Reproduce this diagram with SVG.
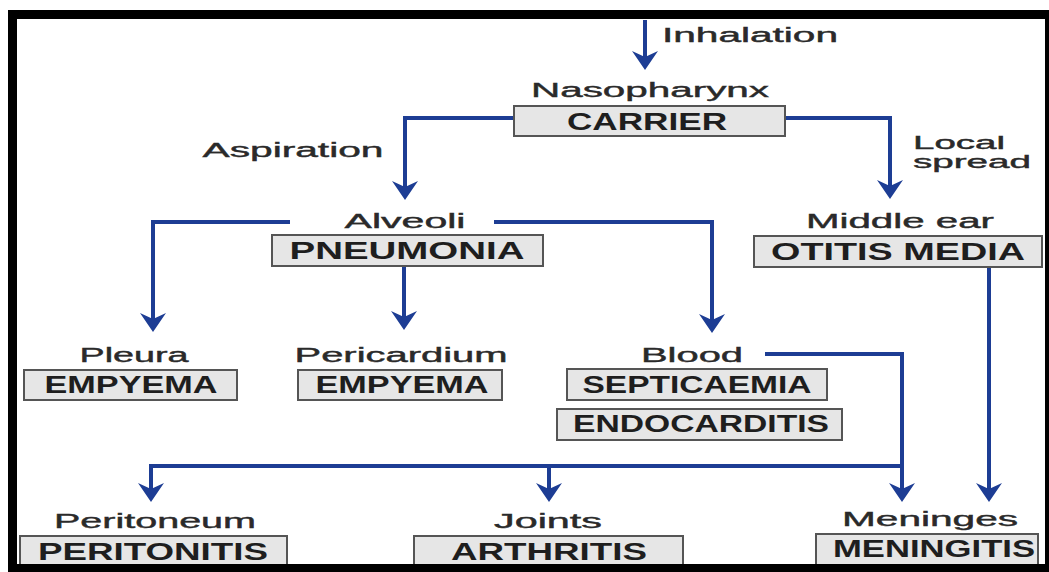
<svg xmlns="http://www.w3.org/2000/svg" width="1049" height="572" viewBox="0 0 1049 572">
  <style>
    .box rect { fill: #e6e6e6; stroke: #555; stroke-width: 2; }
    .box text { font-family: "Liberation Sans", Arial, sans-serif; font-size: 23px; font-weight: bold; fill: #1e1e1e; text-anchor: middle; }
    text.lbl, .box text.lbl { font-family: "Liberation Sans", Arial, sans-serif; font-size: 20px; font-weight: normal; fill: #2a2a2a; text-anchor: middle; stroke: #2a2a2a; stroke-width: 0.4; }
    .conn path { fill: none; stroke: #1d3d94; stroke-width: 4; }
  </style>
  <defs>
    <marker id="ah" viewBox="-2 -15 24 30" markerWidth="24" markerHeight="30" refX="8" refY="0" orient="auto" markerUnits="userSpaceOnUse">
      <path d="M0,-13 L19,0 L0,13 L6,0 Z" fill="#1d3d94"/>
    </marker>
  </defs>
  <rect x="0" y="0" width="1049" height="572" fill="#fff"/>

  <g class="conn" id="connectors">
    <path d="M645,20 V59" marker-end="url(#ah)"/>
    <path d="M514,118 H405 V189" marker-end="url(#ah)"/>
    <path d="M785,118 H890 V188" marker-end="url(#ah)"/>
    <path d="M290,222 H153 V321" marker-end="url(#ah)"/>
    <path d="M404,266 V319" marker-end="url(#ah)"/>
    <path d="M494,222 H712 V322" marker-end="url(#ah)"/>
    <path d="M765,354 H902 V491" marker-end="url(#ah)"/>
    <path d="M902,466 H151 V491" marker-end="url(#ah)"/>
    <path d="M549,466 V491" marker-end="url(#ah)"/>
    <path d="M989,267 V491" marker-end="url(#ah)"/>
  </g>

  <g id="inhalation"><text class="lbl" x="750" y="42" textLength="176" lengthAdjust="spacingAndGlyphs">Inhalation</text></g>
  <g id="aspiration"><text class="lbl" x="293" y="157" textLength="181" lengthAdjust="spacingAndGlyphs">Aspiration</text></g>
  <g id="local-spread">
    <text class="lbl" x="913" y="149" style="text-anchor:start;font-size:18px" textLength="92" lengthAdjust="spacingAndGlyphs">Local</text>
    <text class="lbl" x="913" y="168" style="text-anchor:start;font-size:18px" textLength="118" lengthAdjust="spacingAndGlyphs">spread</text>
  </g>

  <g id="nasopharynx" class="box">
    <text class="lbl" x="650" y="97" textLength="238" lengthAdjust="spacingAndGlyphs">Nasopharynx</text>
    <rect x="514" y="106" width="271" height="30"/>
    <text x="647" y="130" textLength="160" lengthAdjust="spacingAndGlyphs">CARRIER</text>
  </g>

  <g id="alveoli" class="box">
    <text class="lbl" x="405" y="228" textLength="121" lengthAdjust="spacingAndGlyphs">Alveoli</text>
    <rect x="272" y="235" width="271" height="31"/>
    <text x="407" y="259" textLength="235" lengthAdjust="spacingAndGlyphs">PNEUMONIA</text>
  </g>

  <g id="middle-ear" class="box">
    <text class="lbl" x="900" y="228" textLength="188" lengthAdjust="spacingAndGlyphs">Middle ear</text>
    <rect x="754" y="236" width="288" height="31"/>
    <text x="898" y="260" textLength="254" lengthAdjust="spacingAndGlyphs">OTITIS MEDIA</text>
  </g>

  <g id="pleura" class="box">
    <text class="lbl" x="134" y="362" textLength="109" lengthAdjust="spacingAndGlyphs">Pleura</text>
    <rect x="24" y="370" width="213" height="30"/>
    <text x="131" y="393" textLength="173" lengthAdjust="spacingAndGlyphs">EMPYEMA</text>
  </g>

  <g id="pericardium" class="box">
    <text class="lbl" x="401" y="362" textLength="213" lengthAdjust="spacingAndGlyphs">Pericardium</text>
    <rect x="298" y="370" width="204" height="30"/>
    <text x="402" y="393" textLength="173" lengthAdjust="spacingAndGlyphs">EMPYEMA</text>
  </g>

  <g id="blood" class="box">
    <text class="lbl" x="692" y="362" textLength="102" lengthAdjust="spacingAndGlyphs">Blood</text>
    <rect x="567" y="369" width="260" height="31"/>
    <text x="697" y="393" textLength="229" lengthAdjust="spacingAndGlyphs">SEPTICAEMIA</text>
    <rect x="557" y="409" width="285" height="31"/>
    <text x="701" y="432" textLength="256" lengthAdjust="spacingAndGlyphs">ENDOCARDITIS</text>
  </g>

  <g id="peritoneum" class="box">
    <text class="lbl" x="155" y="528" textLength="202" lengthAdjust="spacingAndGlyphs">Peritoneum</text>
    <rect x="20" y="536" width="267" height="32"/>
    <text x="153" y="560" textLength="230" lengthAdjust="spacingAndGlyphs">PERITONITIS</text>
  </g>

  <g id="joints" class="box">
    <text class="lbl" x="548" y="528" textLength="108" lengthAdjust="spacingAndGlyphs">Joints</text>
    <rect x="414" y="536" width="269" height="32"/>
    <text x="549" y="560" textLength="196" lengthAdjust="spacingAndGlyphs">ARTHRITIS</text>
  </g>

  <g id="meninges" class="box">
    <text class="lbl" x="930" y="526" textLength="176" lengthAdjust="spacingAndGlyphs">Meninges</text>
    <rect x="816" y="534" width="222" height="32"/>
    <text x="934" y="557" textLength="202" lengthAdjust="spacingAndGlyphs">MENINGITIS</text>
  </g>

  <path id="frame" fill="#000" fill-rule="evenodd" d="M8,10 H1049 V572 H8 Z M17,19 V564 H1045 V19 Z"/>
</svg>
